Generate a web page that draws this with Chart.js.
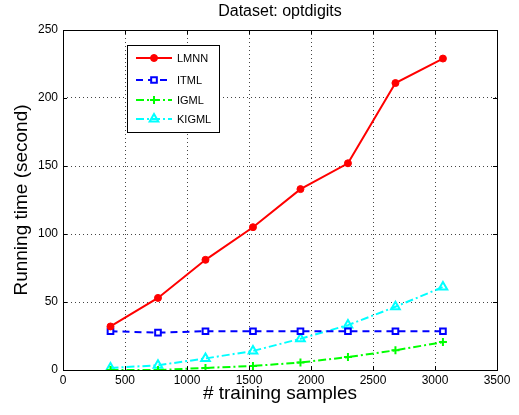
<!DOCTYPE html>
<html>
<head>
<meta charset="utf-8">
<script src="https://cdn.jsdelivr.net/npm/chart.js@4/dist/chart.umd.min.js"></script>
<style>
  html, body { margin: 0; padding: 0; background: #fff; }
  #wrap { width: 519px; height: 415px; }
</style>
</head>
<body>
<div id="wrap"><canvas id="runChart" width="519" height="415"></canvas></div>
<script>
// Data
const samples = [383, 766, 1149, 1532, 1915, 2298, 2681, 3064];
const lmnn = [32, 53, 81, 105, 133, 152, 211, 229];
const itml = [28.5, 27.5, 28.5, 28.5, 28.5, 28.5, 28.5, 28.5];
const igml = [0, 0, 1.5, 3, 5.5, 9.5, 14.5, 20.5];
const kigml = [1.5, 3.5, 8.5, 14, 23, 33, 46.5, 61];
const xTicks = [0, 500, 1000, 1500, 2000, 2500, 3000, 3500];
const yTicks = [0, 50, 100, 150, 200, 250];

const FONT = 'Liberation Sans, Arial, Helvetica, sans-serif';

function toPoints(ys) {
  return samples.map((x, i) => ({ x: x, y: ys[i] }));
}

// Box around the axes, inner tick marks, title and legend (MATLAB look)
const matlabFrame = {
  id: 'matlabFrame',
  afterDraw(chart) {
    const { ctx, chartArea: a, scales } = chart;
    ctx.save();
    ctx.strokeStyle = '#000';
    ctx.lineWidth = 1;
    ctx.setLineDash([]);
    ctx.strokeRect(a.left + 0.5, a.top + 0.5, a.right - a.left, a.bottom - a.top);
    // tick marks inside
    ctx.beginPath();
    xTicks.forEach(v => {
      const px = Math.round(scales.x.getPixelForValue(v)) + 0.5;
      ctx.moveTo(px, a.bottom); ctx.lineTo(px, a.bottom - 4);
      ctx.moveTo(px, a.top); ctx.lineTo(px, a.top + 4);
    });
    yTicks.forEach(v => {
      const py = Math.round(scales.y.getPixelForValue(v)) + 0.5;
      ctx.moveTo(a.left, py); ctx.lineTo(a.left + 4, py);
      ctx.moveTo(a.right, py); ctx.lineTo(a.right - 4, py);
    });
    ctx.stroke();

    // title
    ctx.fillStyle = '#000';
    ctx.font = '16px ' + FONT;
    ctx.textAlign = 'center';
    ctx.textBaseline = 'middle';
    ctx.fillText('Dataset: optdigits', (a.left + a.right) / 2, 12);

    // legend
    const bx = 127, by = 45, bw = 92, bh = 87;
    ctx.fillStyle = '#fff';
    ctx.fillRect(bx, by, bw, bh);
    ctx.strokeStyle = '#000';
    ctx.lineWidth = 1;
    ctx.strokeRect(bx + 0.5, by + 0.5, bw, bh);
    const rows = [58, 80, 100, 119];
    chart.data.datasets.forEach((ds, i) => {
      const y = rows[i];
      ctx.strokeStyle = ds.borderColor;
      ctx.lineWidth = ds.borderWidth;
      ctx.setLineDash(ds.borderDash || []);
      ctx.beginPath();
      ctx.moveTo(136, y); ctx.lineTo(172, y);
      ctx.stroke();
      ctx.setLineDash([]);
      ctx.fillStyle = ds.pointBackgroundColor;
      ctx.strokeStyle = ds.pointBorderColor;
      ctx.lineWidth = ds.pointBorderWidth;
      Chart.helpers.drawPoint(ctx, {
        pointStyle: ds.pointStyle, radius: ds.pointRadius, rotation: 0,
        borderWidth: ds.pointBorderWidth
      }, 154, y);
      ctx.fillStyle = '#000';
      ctx.font = '11px ' + FONT;
      ctx.textAlign = 'left';
      ctx.textBaseline = 'middle';
      ctx.fillText(ds.label, 177, y + 1);
    });
    ctx.restore();
  }
};

new Chart(document.getElementById('runChart').getContext('2d'), {
  type: 'line',
  data: {
    datasets: [{
      label: 'LMNN',
      data: toPoints(lmnn),
      borderColor: '#ff0000',
      borderWidth: 2,
      pointStyle: 'circle',
      pointRadius: 3.5,
      pointBackgroundColor: '#ff0000',
      pointBorderColor: '#ff0000',
      pointBorderWidth: 1
    }, {
      label: 'ITML',
      data: toPoints(itml),
      borderColor: '#0000ff',
      borderWidth: 2,
      borderDash: [7, 5],
      pointStyle: 'rect',
      pointRadius: 4,
      pointBackgroundColor: '#ffffff',
      pointBorderColor: '#0000ff',
      pointBorderWidth: 2
    }, {
      label: 'IGML',
      data: toPoints(igml),
      borderColor: '#00ff00',
      borderWidth: 2,
      borderDash: [8, 3, 2, 3],
      pointStyle: 'cross',
      pointRadius: 4,
      pointBackgroundColor: '#00ff00',
      pointBorderColor: '#00ff00',
      pointBorderWidth: 2
    }, {
      label: 'KIGML',
      data: toPoints(kigml),
      borderColor: '#00ffff',
      borderWidth: 2,
      borderDash: [8, 3, 2, 3],
      pointStyle: 'triangle',
      pointRadius: 5,
      pointBackgroundColor: 'rgba(255,255,255,0)',
      pointBorderColor: '#00ffff',
      pointBorderWidth: 2
    }]
  },
  options: {
    responsive: false,
    animation: false,
    layout: { padding: { top: 30, right: 22, left: 0, bottom: 0 } },
    plugins: {
      legend: { display: false },
      tooltip: { enabled: false }
    },
    scales: {
      x: {
        type: 'linear',
        min: 0,
        max: 3500,
        afterBuildTicks: s => { s.ticks = xTicks.map(v => ({ value: v })); },
        afterFit: s => { s.height = 45; },
        ticks: {
          color: '#000', font: { size: 12, family: FONT }, padding: 3, maxRotation: 0,
          callback: v => String(v)
        },
        grid: { color: '#444', lineWidth: 1, drawTicks: false },
        border: { display: false, dash: [1, 3] },
        title: {
          display: true, text: '# training samples', color: '#000',
          font: { size: 19, family: FONT }, padding: { top: 0, bottom: 10 }
        }
      },
      y: {
        min: 0,
        max: 250,
        afterBuildTicks: s => { s.ticks = yTicks.map(v => ({ value: v })); },
        afterFit: s => { s.width = 63; },
        ticks: {
          color: '#000', font: { size: 12, family: FONT }, padding: 5,
          callback: v => String(v)
        },
        grid: { color: '#444', lineWidth: 1, drawTicks: false },
        border: { display: false, dash: [1, 3] },
        title: {
          display: true, text: 'Running time (second)', color: '#000',
          font: { size: 19, family: FONT }, padding: { top: 10, bottom: 0 }
        }
      }
    }
  },
  plugins: [matlabFrame]
});
</script>
</body>
</html>
